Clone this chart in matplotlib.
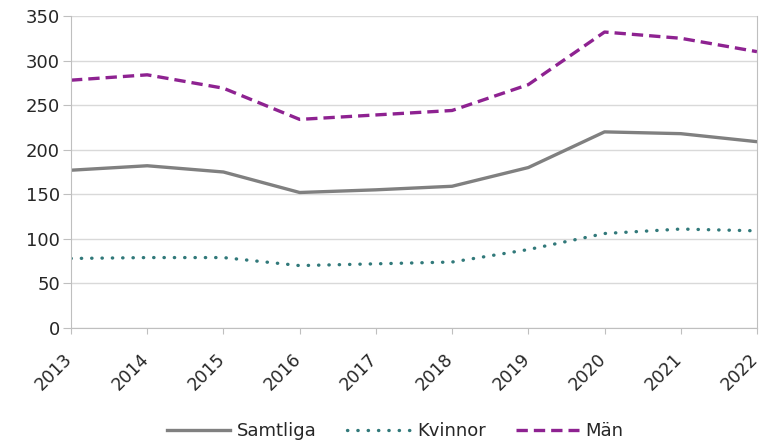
import matplotlib.pyplot as plt
from matplotlib.transforms import ScaledTranslation

years = ['2013', '2014', '2015', '2016', '2017', '2018', '2019', '2020', '2021', '2022']
samtliga = [177, 182, 175, 152, 155, 159, 180, 220, 218, 209]
kvinnor = [78, 79, 79, 70, 72, 74, 88, 106, 111, 109]
man = [278, 284, 269, 234, 239, 244, 273, 332, 325, 310]

fig = plt.figure(figsize=(7.65, 4.43), dpi=100)
ax = fig.add_axes([0.0928, 0.2596, 0.8967, 0.7043])

x = range(len(years))
ax.plot(x, samtliga, color='#808080', lw=2.4, label='Samtliga')
ax.plot(x, kvinnor, color='#31797a', lw=2.4, linestyle=(0, (0.1, 3.0)),
        dash_capstyle='round', label='Kvinnor')
ax.plot(x, man, color='#8e2291', lw=2.4, linestyle=(0, (3.4, 1.8)), label='Män')

ax.set_xlim(0, len(years) - 1)
ax.set_ylim(0, 350)
ax.set_yticks(range(0, 351, 50))
ax.set_xticks(list(x))
ax.set_xticklabels([])

# rotated year labels: bbox top-right corner a little right of / below each tick
shift = ax.get_xaxis_transform() + ScaledTranslation(5 / 100, -22 / 100, fig.dpi_scale_trans)
for i, yr in enumerate(years):
    ax.text(i, 0, yr, transform=shift, rotation=45, ha='right', va='top',
            fontsize=12.5, color='#262626', clip_on=False)

ax.grid(axis='y', color='#d9d9d9', lw=1)
ax.set_axisbelow(True)
for side in ['left', 'bottom', 'right']:
    ax.spines[side].set_color('#bfbfbf')
ax.spines['top'].set_visible(False)
ax.tick_params(axis='x', colors='#bfbfbf', length=4)
ax.tick_params(axis='y', colors='#bfbfbf', length=6, labelcolor='#262626', labelsize=13, pad=2)

leg = fig.legend(loc='lower center', bbox_to_anchor=(0.517, -0.03), ncol=3, frameon=False,
                 fontsize=13, handlelength=3.5, columnspacing=1.7, handletextpad=0.35)
for t in leg.get_texts():
    t.set_color('#262626')

plt.savefig('out.png', dpi=100)
